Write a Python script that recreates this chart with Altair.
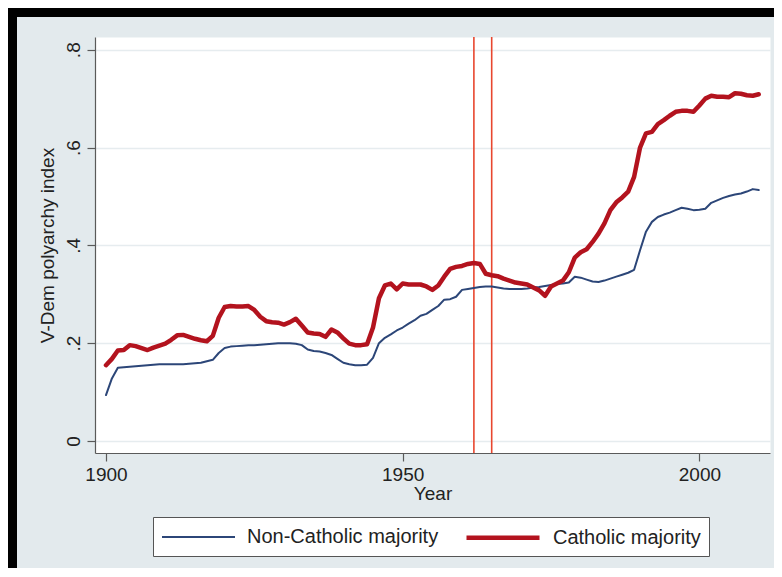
import altair as alt
import pandas as pd

# ---------------- data ----------------
years = list(range(1900, 2011))

non_catholic = [
    0.094, 0.128, 0.150, 0.151, 0.152, 0.153, 0.154, 0.155, 0.156, 0.157,
    0.157, 0.157, 0.157, 0.157, 0.158, 0.159, 0.160, 0.163, 0.166, 0.180,
    0.190, 0.193, 0.194, 0.195, 0.196, 0.196, 0.197, 0.198, 0.199, 0.200,
    0.200, 0.200, 0.199, 0.196, 0.187, 0.184, 0.183, 0.180, 0.176, 0.168,
    0.160, 0.157, 0.155, 0.155, 0.156, 0.170, 0.200, 0.211, 0.218, 0.226,
    0.232, 0.240, 0.247, 0.256, 0.260, 0.268, 0.276, 0.289, 0.290, 0.295,
    0.309, 0.311, 0.313, 0.315, 0.316, 0.316, 0.314, 0.312, 0.311, 0.311,
    0.311, 0.312, 0.314, 0.315, 0.317, 0.319, 0.321, 0.322, 0.324, 0.336,
    0.334, 0.330, 0.326, 0.325, 0.328, 0.332, 0.336, 0.340, 0.344, 0.350,
    0.390, 0.428, 0.448, 0.458, 0.463, 0.467, 0.472, 0.477, 0.475, 0.472,
    0.473, 0.475, 0.487, 0.492, 0.497, 0.501, 0.504, 0.506, 0.510, 0.515,
    0.513,
]

catholic = [
    0.155, 0.168, 0.185, 0.186, 0.196, 0.194, 0.190, 0.186, 0.191, 0.195,
    0.199, 0.207, 0.216, 0.217, 0.213, 0.209, 0.206, 0.204, 0.215, 0.252,
    0.274, 0.276, 0.275, 0.275, 0.276, 0.268, 0.254, 0.245, 0.243, 0.242,
    0.238, 0.243, 0.250, 0.236, 0.222, 0.220, 0.219, 0.213, 0.228, 0.222,
    0.210, 0.199, 0.196, 0.196, 0.198, 0.232, 0.292, 0.318, 0.322, 0.310,
    0.322, 0.320, 0.320, 0.320, 0.316, 0.309, 0.318, 0.336, 0.352, 0.356,
    0.358, 0.362, 0.364, 0.362, 0.342, 0.339, 0.337, 0.332, 0.328, 0.324,
    0.322, 0.320, 0.314, 0.308, 0.297, 0.316, 0.322, 0.328, 0.345, 0.375,
    0.386, 0.392, 0.407, 0.424, 0.445, 0.472, 0.488, 0.498, 0.510, 0.540,
    0.600, 0.629, 0.632, 0.648, 0.656, 0.665, 0.673, 0.675, 0.675, 0.673,
    0.686, 0.700, 0.706, 0.704, 0.704, 0.703, 0.711, 0.710, 0.707, 0.706,
    0.709,
]

series_names = ["Non-Catholic majority", "Catholic majority"]
council_years = [1962, 1965]

x_ticks = [1900, 1950, 2000]
y_ticks = [0, 0.2, 0.4, 0.6, 0.8]

# ---------------- styling ----------------
FONT = "Liberation Sans"
BLUE = "#2c4678"
RED = "#b3131e"
VLINE = "#e8472f"
BG = "#e3eaed"
AXIS = "#5a5a5a"
TEXT = "#222222"

df = pd.DataFrame({
    "year": years * 2,
    "value": non_catholic + catholic,
    "series": [series_names[0]] * len(years) + [series_names[1]] * len(years),
})
council_df = pd.DataFrame({"year": council_years})
frame_df = pd.DataFrame({"k": [0]})

x_scale = alt.Scale(domain=[1898.15, 2011.9], nice=False, zero=False)
y_scale = alt.Scale(domain=[-0.0245, 0.826], nice=False, zero=False)

x_axis = alt.Axis(
    values=x_ticks, format="d", title="Year", grid=False,
    labelFlush=False, labelPadding=4, titlePadding=0,
)
y_axis = alt.Axis(
    values=y_ticks, grid=True, title="V-Dem polyarchy index",
    labelExpr="datum.value == 0 ? '0' : replace(format(datum.value, '.1f'), '0.', '.')",
    labelAngle=-90, labelAlign="center", labelBaseline="bottom",
    labelPadding=4, titlePadding=7, labelFlush=False,
)

# long horizontal line symbol (custom path, scaled by sqrt(size)/2)
legend = alt.Legend(
    orient="none", legendX=58, legendY=480, direction="horizontal",
    symbolType="M-1,0H6.3", symbolSize=400, labelFontSize=20, labelFont=FONT,
    labelColor=TEXT, labelOffset=64, columnPadding=18, padding=8,
    strokeColor="#555555", fillColor="white", labelLimit=400,
)

# decorative black frame (top and left edges of the photographed figure)
frame_left = alt.Chart(frame_df).mark_rule(color="black", strokeWidth=9).encode(
    x=alt.value(-82.5), y=alt.value(-29), y2=alt.value(531)
)
frame_top = alt.Chart(frame_df).mark_rule(color="black", strokeWidth=9).encode(
    x=alt.value(-87), x2=alt.value(679), y=alt.value(-24.5)
)

vlines = alt.Chart(council_df).mark_rule(color=VLINE, strokeWidth=1.6).encode(
    x=alt.X("year:Q", scale=x_scale, axis=x_axis)
)

lines = alt.Chart(df).mark_line(strokeJoin="round", strokeCap="round").encode(
    x=alt.X("year:Q", scale=x_scale, axis=x_axis),
    y=alt.Y("value:Q", scale=y_scale, axis=y_axis),
    color=alt.Color("series:N", scale=alt.Scale(domain=series_names, range=[BLUE, RED]),
                    title=None, legend=legend),
    strokeWidth=alt.StrokeWidth("series:N", scale=alt.Scale(domain=series_names, range=[2, 4.5]),
                                title=None, legend=legend),
)

chart = (
    alt.layer(vlines, lines, frame_left, frame_top)
    .properties(
        width=675, height=416,
        autosize=alt.AutoSizeParams(type="none"),
        padding={"left": 87, "top": 29, "right": 4, "bottom": 115},
        background=BG,
    )
    .configure_view(fill="white", stroke="transparent")
    .configure_axis(
        domainColor=AXIS, tickColor=AXIS, domainWidth=1.2, tickWidth=1.2, tickSize=8,
        labelColor=TEXT, titleColor=TEXT, labelFont=FONT, titleFont=FONT,
        labelFontSize=19, titleFontSize=19, titleFontWeight="normal",
        gridColor="#e6ecef", gridWidth=1.6,
    )
)

chart.save("out.html", embed_options={"renderer": "svg", "actions": False})
